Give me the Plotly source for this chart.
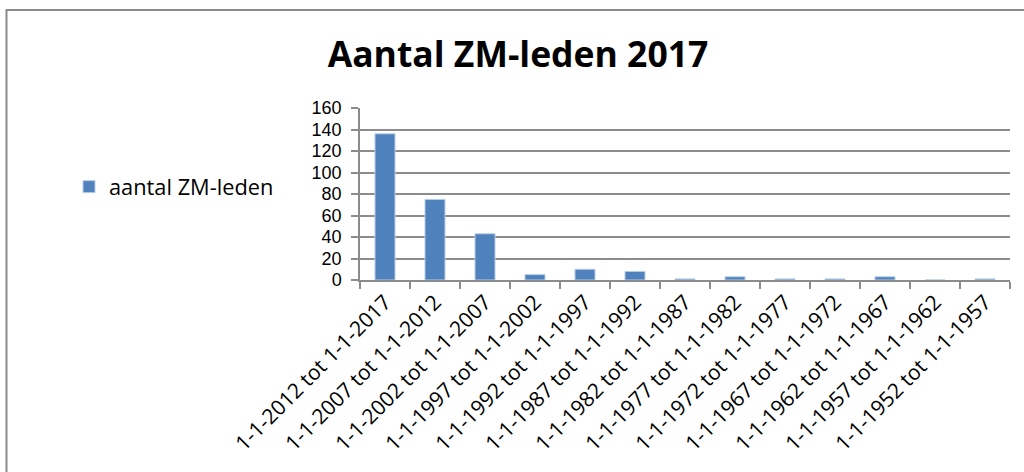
import plotly.graph_objects as go

# periods (x categories) and member counts
periodes = [
    "1-1-2012 tot 1-1-2017",
    "1-1-2007 tot 1-1-2012",
    "1-1-2002 tot 1-1-2007",
    "1-1-1997 tot 1-1-2002",
    "1-1-1992 tot 1-1-1997",
    "1-1-1987 tot 1-1-1992",
    "1-1-1982 tot 1-1-1987",
    "1-1-1977 tot 1-1-1982",
    "1-1-1972 tot 1-1-1977",
    "1-1-1967 tot 1-1-1972",
    "1-1-1962 tot 1-1-1967",
    "1-1-1957 tot 1-1-1962",
    "1-1-1952 tot 1-1-1957",
]
aantal_leden = [136, 75, 43, 5, 10, 8, 1, 3, 1, 1, 3, 0, 1]
y_ticks = [0, 20, 40, 60, 80, 100, 120, 140, 160]

FONT = "Open Sans"
TICK_FONT = "Liberation Sans"  # tighter line box, so stacked y labels don't collide
GRID = "#8c8c8c"

fig = go.Figure()
fig.add_trace(go.Bar(
    x=periodes,
    y=aantal_leden,
    name="aantal ZM-leden",
    marker=dict(color="#4f81bd", line=dict(color="#b9cde5", width=1)),
))

# plot area: x 360..1010 px, y 108..280 px
W, H = 1024, 472
L, R, T, B = 360, 14, 108, 192
pw, ph = W - L - R, H - T - B

def px_x(p):
    return (p - L) / pw

def px_y(p):
    return (H - B - p) / ph

fig.update_layout(
    width=W, height=H,
    margin=dict(l=L, r=R, t=T, b=B),
    paper_bgcolor="white",
    plot_bgcolor="white",
    font=dict(family=FONT, color="black"),
    bargap=0.6,
    showlegend=True,
    title=dict(
        text="<b>Aantal ZM-leden 2017</b>",
        font=dict(family=FONT, size=35.5, color="black"),
        x=518 / W, xanchor="center",
        y=1 - 55 / H, yanchor="middle",
    ),
    legend=dict(
        x=px_x(69), xanchor="left",
        y=px_y(187), yanchor="middle",
        font=dict(family=FONT, size=21.8, color="black"),
        bgcolor="rgba(0,0,0,0)",
        itemwidth=30,
    ),
    shapes=[dict(
        type="rect", xref="paper", yref="paper",
        x0=px_x(6.5), x1=px_x(1040), y0=px_y(10), y1=px_y(490),
        line=dict(color="#8c8c8c", width=2),
        fillcolor="rgba(0,0,0,0)", layer="below",
    )],
)

fig.update_xaxes(
    type="category",
    tickangle=-45,
    tickfont=dict(family=FONT, size=21, color="black"),
    showline=True, linecolor=GRID, linewidth=1.5,
    ticks="outside", tickson="boundaries", ticklen=7, tickcolor=GRID, tickwidth=1.5,
    showgrid=False,
)
fig.update_yaxes(
    range=[0, 160],
    tickvals=y_ticks,
    tickfont=dict(family=TICK_FONT, size=18, color="black"),
    ticklabelstandoff=6,
    showline=True, linecolor=GRID, linewidth=1.5,
    ticks="outside", ticklen=7, tickcolor=GRID, tickwidth=1.5,
    showgrid=True, gridcolor=GRID, gridwidth=1.5,
    zeroline=False,
)

# drop the default 8px body margin so the figure sits at the window corner
fig.write_html(
    "out.html",
    config={"displayModeBar": False},
    post_script="document.body.style.margin='0';",
)
